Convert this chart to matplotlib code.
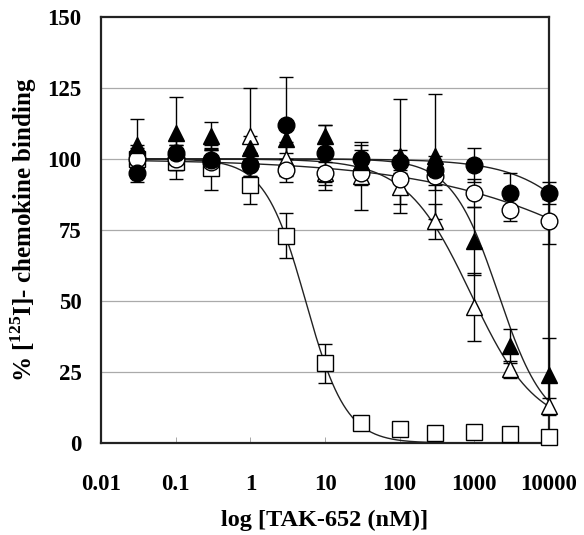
import numpy as np
import matplotlib
matplotlib.use("Agg")
import matplotlib.pyplot as plt

plt.rcParams['font.family'] = 'Liberation Serif'
plt.rcParams['font.weight'] = 'bold'
plt.rcParams['mathtext.fontset'] = 'custom'
plt.rcParams['mathtext.rm'] = 'Liberation Serif:bold'
plt.rcParams['mathtext.bf'] = 'Liberation Serif:bold'

conc = [0.03, 0.1, 0.3, 1, 3, 10, 30, 100, 300, 1000, 3000, 10000]

# filled circles
fc_y = [95, 102, 99.5, 98, 112, 102, 100, 99, 96, 98, 88, 88]
fc_err = [3, 5, 4, 4, 17, 10, 5, 4, 5, 6, 7, 4]
# open circles
oc_y = [100, 100, 99, 98, 96, 95, 95, 93, 94, 88, 82, 78]
oc_err = [4, 4, 4, 4, 4, 4, 4, 5, 5, 5, 4, 8]
# filled triangles
ft_y = [105, 109, 108, 104, 107, 108, 99, 101, 101, 71, 34, 24]
ft_err = [9, 13, 5, 4, 5, 4, 4, 20, 22, 12, 6, 13]
# open triangles
ot_y = [101, 101, 100, 108, 100, 95, 94, 90, 78, 48, 26, 13]
ot_err = [4, 4, 4, 17, 6, 6, 12, 6, 6, 12, 3, 3]
# open squares
sq_y = [100, 99, 97, 91, 73, 28, 7, 5, 3.5, 4, 3, 2]
sq_err = [3, 6, 8, 7, 8, 7, 1, 1, 1, 1, 1, 1]

# fitted curve parameters (top, bottom, IC50, hill)
fc_fit = [100, 0, 1.2e5, 0.8]
oc_fit = [100, 0, 8.3e5, 0.3]
ft_fit = [100, 5, 2100, 1.4]
ot_fit = [100, 5, 900, 1.0]
sq_fit = [100, 0, 5.5, 1.6]

xticks = [0.01, 0.1, 1, 10, 100, 1000, 10000]
xticklabels = ['0.01', '0.1', '1', '10', '100', '1000', '10000']
yticks = [0, 25, 50, 75, 100, 125, 150]


def hill(x, p):
    top, bottom, ic50, n = p
    return bottom + (top - bottom) / (1 + (x / ic50) ** n)


fig = plt.figure(figsize=(5.84, 5.35), dpi=100)
ax = fig.add_axes([101 / 584, 1 - 443 / 535, 448 / 584, 426 / 535])

xs = np.logspace(np.log10(0.03), 4, 300)
for p in [fc_fit, oc_fit, ft_fit, ot_fit, sq_fit]:
    ax.plot(xs, np.clip(hill(xs, p), 0, None), color='#222222', lw=1.0, zorder=2)

series = [
    (sq_y, sq_err, 's', 'white', 11),
    (ot_y, ot_err, '^', 'white', 12),
    (oc_y, oc_err, 'o', 'white', 12),
    (ft_y, ft_err, '^', 'black', 12),
    (fc_y, fc_err, 'o', 'black', 12),
]
for y, e, m, fcol, ms in series:
    ax.errorbar(conc, y, yerr=e, fmt=m, mfc=fcol, mec='black', mew=1.0, ms=ms,
                ecolor='black', elinewidth=1.0, capsize=5, capthick=1.0,
                zorder=3, clip_on=False)

ax.set_xscale('log')
ax.set_xlim(0.01, 10000)
ax.set_ylim(0, 150)
ax.set_xticks(xticks)
ax.set_xticklabels(xticklabels)
ax.minorticks_off()
ax.set_yticks(yticks)
ax.tick_params(axis='x', direction='in', length=4, width=0.6, colors='#999999',
               labelcolor='black', labelsize=16.5, pad=22)
ax.tick_params(axis='y', length=0, labelsize=16.5, pad=14)
for lab in ax.get_xticklabels() + ax.get_yticklabels():
    lab.set_fontweight('bold')

for yv in [25, 50, 75, 100, 125]:
    ax.axhline(yv, color='#aaaaaa', lw=0.9, zorder=1)

for s in ax.spines.values():
    s.set_linewidth(1.6)
    s.set_color('#222222')

ax.set_xlabel('log [TAK-652 (nM)]', fontsize=17.5, fontweight='bold', labelpad=11)
ax.set_ylabel(r'% [$^{125}$I]- chemokine binding', fontsize=18, fontweight='bold', labelpad=6)

fig.savefig('out.png', dpi=100)
